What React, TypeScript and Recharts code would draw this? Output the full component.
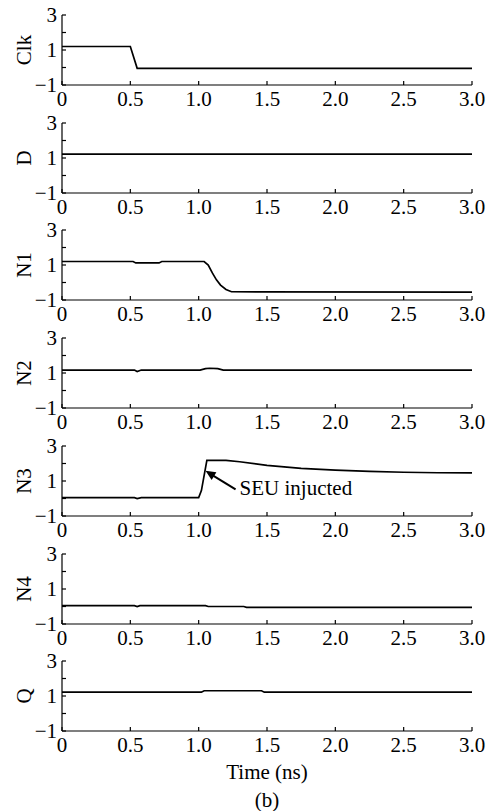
import { LineChart, Line, XAxis, YAxis, ReferenceLine } from "recharts";

const FONT = '"Liberation Serif", "Times New Roman", Times, serif';
const txt = { fontFamily: FONT };

const xTicks = [0, 0.5, 1, 1.5, 2, 2.5, 3];
const xTickLabels = ["0", "0.5", "1.0", "1.5", "2.0", "2.5", "3.0"];
const yTicks = [-1, 0, 1, 2, 3];
const yTickLabels = ["\u22121", "", "1", "", "3"];

const names = ["Clk", "D", "N1", "N2", "N3", "N4", "Q"];

// time (ns) / voltage pairs
const clkT = [0, 0.5, 0.55, 3.0];
const clkV = [1.2, 1.2, -0.05, -0.05];

const dT = [0, 3.0];
const dV = [1.22, 1.22];

const n1T = [0, 0.52, 0.54, 0.71, 0.73, 1.04, 1.07, 1.1, 1.13, 1.16, 1.2, 1.24, 3.0];
const n1V = [1.2, 1.2, 1.12, 1.12, 1.2, 1.2, 1.0, 0.55, 0.15, -0.15, -0.4, -0.53, -0.55];

const n2T = [0, 0.53, 0.55, 0.58, 1.01, 1.05, 1.08, 1.14, 1.18, 3.0];
const n2V = [1.17, 1.17, 1.08, 1.17, 1.17, 1.25, 1.27, 1.25, 1.17, 1.17];

const n3T = [0, 0.53, 0.55, 0.58, 1.0, 1.02, 1.06, 1.2, 1.3, 1.5, 1.75, 2.0, 2.25, 2.5, 2.75, 3.0];
const n3V = [0.05, 0.05, 0.0, 0.05, 0.05, 0.45, 2.18, 2.18, 2.1, 1.89, 1.72, 1.62, 1.55, 1.5, 1.47, 1.46];

const n4T = [0, 0.53, 0.55, 0.57, 1.05, 1.07, 1.33, 1.35, 3.0];
const n4V = [0.05, 0.05, 0.0, 0.05, 0.05, 0.0, 0.0, -0.05, -0.05];

const qT = [0, 1.02, 1.04, 1.46, 1.48, 3.0];
const qV = [1.22, 1.22, 1.3, 1.3, 1.22, 1.22];

const seriesT = [clkT, dT, n1T, n2T, n3T, n4T, qT];
const seriesV = [clkV, dV, n1V, n2V, n3V, n4V, qV];

const seuLabel = "SEU injucted";
const arrowTail = { x: 1.27, y: 0.52 };
const arrowTip = { x: 1.05, y: 1.58 };

const TOP = 14;
const PLOT_H = 70;
const FS = 21;

function BottomTick({ x, y, payload }: any) {
  const i = xTicks.indexOf(payload.value);
  return (
    <g>
      <line x1={x} x2={x} y1={y} y2={y - 4} stroke="#000" strokeWidth={1.2} />
      <text x={x} y={y + 14} textAnchor="middle" dominantBaseline="central" fontSize={FS} style={txt} fill="#000">
        {xTickLabels[i]}
      </text>
    </g>
  );
}

function TopTick({ x, y }: any) {
  return <line x1={x} x2={x} y1={y} y2={y + 4} stroke="#000" strokeWidth={1.2} />;
}

function LeftTick({ x, y, payload }: any) {
  const i = yTicks.indexOf(payload.value);
  return (
    <g>
      <line x1={x} x2={x + 4} y1={y} y2={y} stroke="#000" strokeWidth={1.2} />
      <text x={x - 5} y={y} textAnchor="end" dominantBaseline="central" fontSize={FS} style={txt} fill="#000">
        {yTickLabels[i]}
      </text>
    </g>
  );
}

function RightTick({ x, y }: any) {
  return <line x1={x} x2={x - 4} y1={y} y2={y} stroke="#000" strokeWidth={1.2} />;
}

function SeuArrow(p: any) {
  const { x1, y1, x2, y2 } = p;
  const dx = x2 - x1;
  const dy = y2 - y1;
  const len = Math.sqrt(dx * dx + dy * dy) || 1;
  const ux = dx / len;
  const uy = dy / len;
  const L = 10;
  const W = 4.5;
  const bx = x2 - ux * L;
  const by = y2 - uy * L;
  const pts = `${x2},${y2} ${bx - uy * W},${by + ux * W} ${bx + uy * W},${by - ux * W}`;
  return (
    <g>
      <line x1={x1} y1={y1} x2={bx + ux * 2} y2={by + uy * 2} stroke="#000" strokeWidth={2} />
      <polygon points={pts} fill="#000" />
      <text x={x1 + 4} y={y1 - 1} dominantBaseline="central" fontSize={FS} style={txt} fill="#000">
        {seuLabel}
      </text>
    </g>
  );
}

function Panel({ idx }: { idx: number }) {
  const data = seriesT[idx].map((t, i) => ({ t, v: seriesV[idx][i] }));
  const last = idx === names.length - 1;
  const xh = last ? 60 : 30;
  const top = 15 + Math.round(idx * 107.7);
  const name = names[idx];
  return (
    <div style={{ position: "absolute", left: 0, top: top - TOP }}>
      <LineChart width={492} height={TOP + PLOT_H + xh} data={data} margin={{ top: TOP, right: 20, bottom: 0, left: 0 }}>
        <XAxis
          dataKey="t"
          type="number"
          domain={[0, 3]}
          ticks={xTicks}
          interval={0}
          height={xh}
          tickSize={0}
          tickMargin={0}
          tickLine={false}
          axisLine={{ stroke: "#000", strokeWidth: 1.2 }}
          tick={<BottomTick />}
          label={
            last
              ? ({ viewBox }: any) => (
                  <text
                    x={viewBox.x + viewBox.width / 2}
                    y={viewBox.y + 41}
                    textAnchor="middle"
                    dominantBaseline="central"
                    fontSize={FS}
                    style={txt}
                    fill="#000"
                  >
                    Time (ns)
                  </text>
                )
              : undefined
          }
        />
        <XAxis
          xAxisId="top"
          orientation="top"
          dataKey="t"
          type="number"
          domain={[0, 3]}
          ticks={xTicks}
          interval={0}
          height={0}
          tickSize={0}
          tickMargin={0}
          tickLine={false}
          axisLine={{ stroke: "#000", strokeWidth: 1.2 }}
          tick={<TopTick />}
        />
        <YAxis
          type="number"
          domain={[-1, 3]}
          ticks={yTicks}
          interval={0}
          width={62}
          tickSize={0}
          tickMargin={0}
          tickLine={false}
          axisLine={{ stroke: "#000", strokeWidth: 1.2 }}
          tick={<LeftTick />}
          label={({ viewBox }: any) => {
            const cy = viewBox.y + viewBox.height / 2;
            return (
              <text
                x={24}
                y={cy}
                transform={`rotate(-90 24 ${cy})`}
                textAnchor="middle"
                dominantBaseline="central"
                fontSize={FS}
                style={txt}
                fill="#000"
              >
                {name}
              </text>
            );
          }}
        />
        <YAxis
          yAxisId="right"
          orientation="right"
          type="number"
          domain={[-1, 3]}
          ticks={yTicks}
          interval={0}
          width={0}
          tickSize={0}
          tickMargin={0}
          tickLine={false}
          axisLine={{ stroke: "#000", strokeWidth: 1.2 }}
          tick={<RightTick />}
        />
        <Line type="linear" dataKey="v" stroke="#000" strokeWidth={1.7} dot={false} isAnimationActive={false} />
        {name === "N3" && (
          <ReferenceLine segment={[arrowTail, arrowTip]} stroke="#000" shape={SeuArrow} ifOverflow="visible" />
        )}
      </LineChart>
    </div>
  );
}

export default function App() {
  return (
    <div style={{ position: "absolute", left: 0, top: 0, width: 492, height: 811, background: "#fff", fontFamily: FONT }}>
      {names.map((_, i) => (
        <Panel key={i} idx={i} />
      ))}
      <div
        style={{
          position: "absolute",
          left: 62,
          width: 410,
          top: 788,
          textAlign: "center",
          fontSize: FS,
          lineHeight: "24px",
          color: "#000",
        }}
      >
        (b)
      </div>
    </div>
  );
}
